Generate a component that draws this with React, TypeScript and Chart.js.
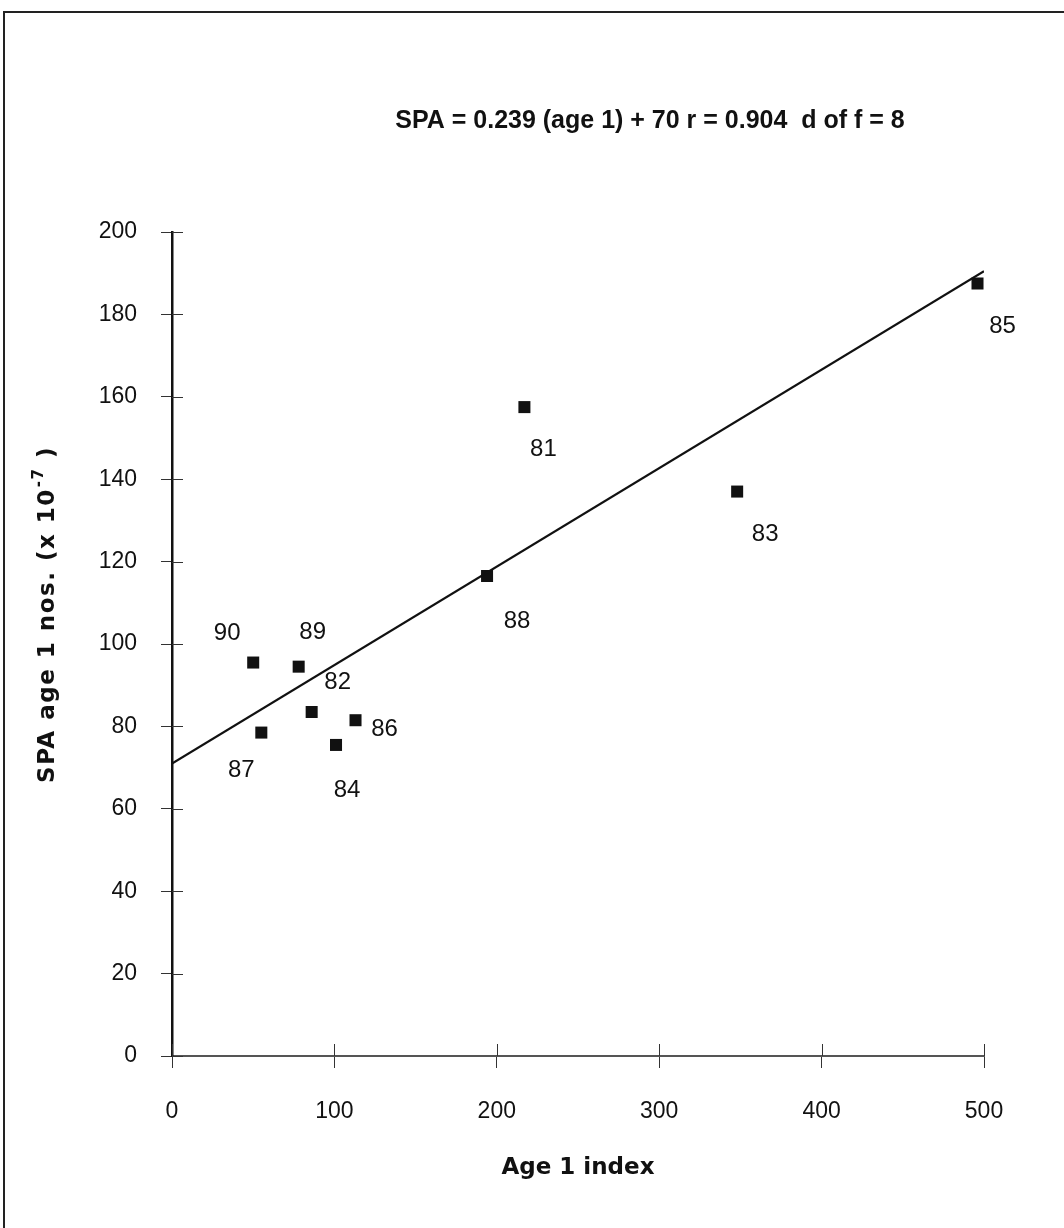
import React, { useEffect, useRef } from 'react';
import { Chart, registerables } from 'chart.js';

Chart.register(...registerables);

// ---- data ----
const yearLabels = ['81', '82', '83', '84', '85', '86', '87', '88', '89', '90'];
const age1Index = [217, 86, 348, 101, 496, 113, 55, 194, 78, 50];
const spaAge1 = [157.5, 83.5, 137, 75.5, 187.5, 81.5, 78.5, 116.5, 94.5, 95.5];
const fitX = [0, 500];
const fitY = [71, 190.5];
const xTickValues = [0, 100, 200, 300, 400, 500];
const yTickValues = [0, 20, 40, 60, 80, 100, 120, 140, 160, 180, 200];
const chartTitle = 'SPA = 0.239 (age 1) + 70 r = 0.904  d of f = 8';
const xAxisTitle = 'Age 1 index';
const yAxisTitleMain = 'SPA age 1 nos. (x 10';
const yAxisTitleSup = '-7';
const yAxisTitleTail = ' )';

// ---- styles (pixel offsets of the year labels from their points) ----
const labelOffsets: [number, number][] = [
  [19, 42], [26, -30], [28, 43], [11, 45], [25, 43],
  [29, 9], [-20, 38], [30, 45], [14, -34], [-26, -29],
];

const tickFont = "'Liberation Sans', Arial, sans-serif";
const titleFont = "'Liberation Sans', Arial, sans-serif";
const axisTitleFont = "'DejaVu Sans', 'Liberation Sans', sans-serif";

const decorPlugin = {
  id: 'decor',
  beforeDraw(chart: any) {
    const ctx = chart.ctx;
    ctx.save();
    ctx.fillStyle = '#ffffff';
    ctx.fillRect(0, 0, chart.width, chart.height);
    ctx.strokeStyle = '#222';
    ctx.lineWidth = 2;
    ctx.beginPath();
    ctx.moveTo(4, chart.height);
    ctx.lineTo(4, 12);
    ctx.lineTo(chart.width, 12);
    ctx.stroke();
    ctx.restore();
  },
  afterDraw(chart: any) {
    const ctx = chart.ctx;
    const xs = chart.scales.x;
    const ys = chart.scales.y;
    const area = chart.chartArea;
    ctx.save();
    // inner halves of the crossing tick marks
    ctx.strokeStyle = '#333';
    ctx.lineWidth = 1;
    ctx.beginPath();
    yTickValues.forEach((v) => {
      const py = Math.round(ys.getPixelForValue(v)) + 0.5;
      ctx.moveTo(area.left, py);
      ctx.lineTo(area.left + 11, py);
    });
    xTickValues.forEach((v) => {
      const px = Math.round(xs.getPixelForValue(v)) + 0.5;
      ctx.moveTo(px, area.bottom);
      ctx.lineTo(px, area.bottom - 12);
    });
    ctx.stroke();
    // year labels
    ctx.fillStyle = '#111';
    ctx.font = `24px ${tickFont}`;
    ctx.textAlign = 'center';
    ctx.textBaseline = 'middle';
    yearLabels.forEach((lab, i) => {
      const px = xs.getPixelForValue(age1Index[i]);
      const py = ys.getPixelForValue(spaAge1[i]);
      ctx.fillText(lab, px + labelOffsets[i][0], py + labelOffsets[i][1]);
    });
    // chart title
    ctx.font = `bold 25px ${titleFont}`;
    ctx.textAlign = 'center';
    ctx.textBaseline = 'middle';
    ctx.fillText(chartTitle, 650, 121);
    ctx.restore();

    // y axis title with a real superscript
    ctx.save();
    ctx.translate(48, 615);
    ctx.rotate(-Math.PI / 2);
    ctx.fillStyle = '#111';
    ctx.textAlign = 'left';
    ctx.textBaseline = 'middle';
    (ctx as any).letterSpacing = '1.5px';
    const mainFont = `bold 23px ${axisTitleFont}`;
    const supFont = `bold 15px ${axisTitleFont}`;
    ctx.font = mainFont;
    const w1 = ctx.measureText(yAxisTitleMain).width;
    const w3 = ctx.measureText(yAxisTitleTail).width;
    ctx.font = supFont;
    const w2 = ctx.measureText(yAxisTitleSup).width;
    const x0 = -(w1 + w2 + w3) / 2;
    ctx.font = mainFont;
    ctx.fillText(yAxisTitleMain, x0, 0);
    ctx.font = supFont;
    ctx.fillText(yAxisTitleSup, x0 + w1 + 1, -9);
    ctx.font = mainFont;
    ctx.fillText(yAxisTitleTail, x0 + w1 + w2 + 1, 0);
    ctx.restore();
  },
};

export default function App() {
  const canvasRef = useRef<HTMLCanvasElement | null>(null);

  useEffect(() => {
    if (!canvasRef.current) return;
    const points = age1Index.map((x, i) => ({ x, y: spaAge1[i] }));
    const fit = fitX.map((x, i) => ({ x, y: fitY[i] }));
    const chart = new Chart(canvasRef.current, {
      type: 'scatter',
      data: {
        datasets: [
          {
            label: 'fit',
            data: fit,
            showLine: true,
            borderColor: '#111',
            borderWidth: 2.2,
            pointRadius: 0,
            fill: false,
          },
          {
            label: 'SPA',
            data: points,
            pointStyle: 'rect',
            pointRadius: 8.5,
            pointBackgroundColor: '#111',
            pointBorderWidth: 0,
            showLine: false,
          },
        ],
      },
      options: {
        animation: false,
        responsive: false,
        devicePixelRatio: 1,
        layout: { padding: { left: 30, right: 80, top: 232, bottom: 40 } },
        plugins: {
          legend: { display: false },
          tooltip: { enabled: false },
          title: { display: false },
        },
        scales: {
          x: {
            type: 'linear',
            min: 0,
            max: 500,
            afterBuildTicks: (s: any) => {
              s.ticks = xTickValues.map((value) => ({ value }));
            },
            afterFit: (s: any) => {
              s.height = 132;
            },
            grid: { drawOnChartArea: false, tickLength: 12, color: '#333', lineWidth: 1 },
            border: { color: '#555', width: 2 },
            ticks: {
              padding: 30,
              color: '#111',
              font: { family: tickFont, size: 23 },
              maxRotation: 0,
            },
            title: {
              display: true,
              text: xAxisTitle,
              color: '#111',
              font: { family: axisTitleFont, size: 23, weight: 'bold' },
              padding: { top: 0, bottom: 6 },
            },
          },
          y: {
            type: 'linear',
            min: 0,
            max: 200,
            afterBuildTicks: (s: any) => {
              s.ticks = yTickValues.map((value) => ({ value }));
            },
            afterFit: (s: any) => {
              s.width = 142;
            },
            grid: { drawOnChartArea: false, tickLength: 11, color: '#333', lineWidth: 1 },
            border: { color: '#111', width: 2.5 },
            ticks: {
              padding: 24,
              color: '#111',
              font: { family: tickFont, size: 23 },
            },
            title: { display: false },
          },
        },
      } as any,
      plugins: [decorPlugin],
    });
    return () => chart.destroy();
  }, []);

  return (
    <div style={{ position: 'absolute', left: 0, top: 0, width: 1064, height: 1228, background: '#fff' }}>
      <canvas ref={canvasRef} width={1064} height={1228} style={{ display: 'block' }} />
    </div>
  );
}
